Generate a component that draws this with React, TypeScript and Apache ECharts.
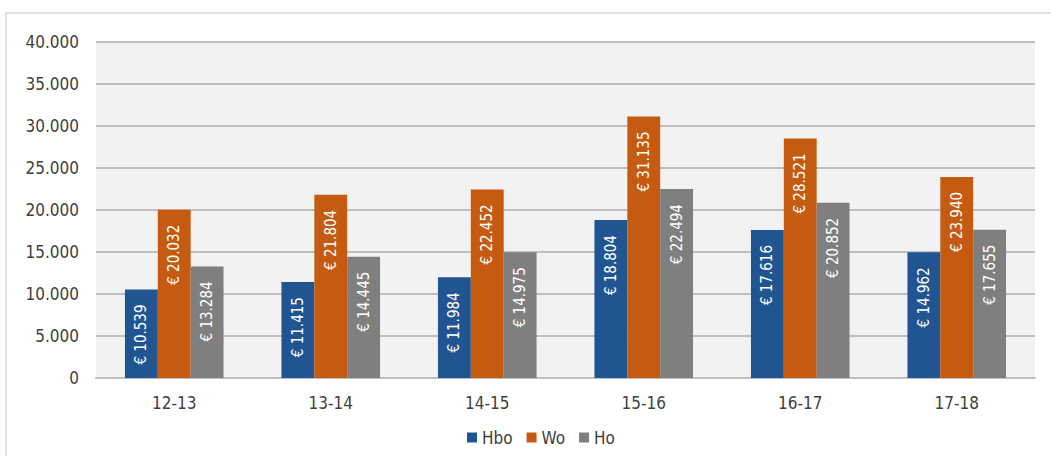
import React, { useEffect, useRef } from "react";
import * as echarts from "echarts";

const categories = ["12-13", "13-14", "14-15", "15-16", "16-17", "17-18"];
const hboValues = [10539, 11415, 11984, 18804, 17616, 14962];
const woValues = [20032, 21804, 22452, 31135, 28521, 23940];
const hoValues = [13284, 14445, 14975, 22494, 20852, 17655];
const seriesNames = ["Hbo", "Wo", "Ho"];
const seriesColors = ["#215592", "#c55a11", "#7f7f7f"];

const FONT = "'DejaVu Sans Condensed', 'DejaVu Sans', sans-serif";

function fmt(n: number): string {
  return String(Math.round(n)).replace(/\B(?=(\d{3})+(?!\d))/g, ".");
}

export default function App() {
  const ref = useRef<HTMLDivElement>(null);
  useEffect(() => {
    if (!ref.current) return;
    const chart = echarts.init(ref.current, null, { renderer: "svg" });
    const data = [hboValues, woValues, hoValues];
    chart.setOption({
      animation: false,
      backgroundColor: "#ffffff",
      textStyle: { fontFamily: FONT },
      graphic: [
        {
          type: "rect",
          shape: { x: 6, y: 13, width: 1200, height: 600 },
          style: { fill: "none", stroke: "#d9d9d9", lineWidth: 1.5 },
          silent: true,
          z: -10,
        },
      ],
      grid: {
        left: 96,
        right: 16,
        top: 42,
        bottom: 78,
        show: true,
        backgroundColor: "#f2f2f2",
        borderWidth: 0,
      },
      legend: {
        data: seriesNames,
        left: 462,
        top: 424,
        itemWidth: 10,
        itemHeight: 10,
        itemGap: 14,
        icon: "rect",
        textStyle: { fontFamily: FONT, fontSize: 17, color: "#404040" },
      },
      xAxis: {
        type: "category",
        data: categories,
        axisLine: { show: true, lineStyle: { color: "#bfbfbf", width: 2 } },
        axisTick: { show: false },
        axisLabel: { fontFamily: FONT, fontSize: 17, color: "#404040", margin: 16 },
      },
      yAxis: {
        type: "value",
        min: 0,
        max: 40000,
        interval: 5000,
        axisLine: { show: false },
        axisTick: { show: false },
        splitLine: { lineStyle: { color: "#bfbfbf", width: 2 } },
        axisLabel: {
          fontFamily: FONT,
          fontSize: 17,
          color: "#404040",
          margin: 17,
          formatter: (v: number) => fmt(v),
        },
      },
      series: seriesNames.map((name, i) => ({
        name,
        type: "bar",
        data: data[i],
        barGap: "0%",
        barCategoryGap: "37%",
        itemStyle: { color: seriesColors[i] },
        label: {
          show: true,
          position: "insideTop",
          rotate: 90,
          align: "right",
          verticalAlign: "middle",
          distance: 15,
          color: "#ffffff",
          fontFamily: FONT,
          fontSize: 15,
          formatter: (p: any) => "€ " + fmt(p.value),
        },
      })),
    });
    return () => chart.dispose();
  }, []);
  return (
    <div
      ref={ref}
      style={{ position: "fixed", left: 0, top: 0, width: 1051, height: 456 }}
    />
  );
}
